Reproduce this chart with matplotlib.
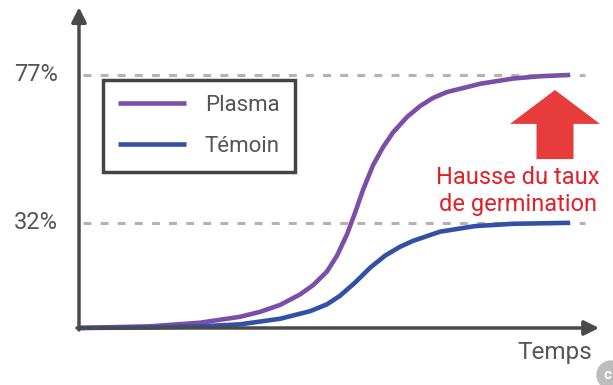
import matplotlib.pyplot as plt
import matplotlib.patches as mpatches

plt.rcParams['font.family'] = ['Roboto', 'DejaVu Sans']

# curves (time in arbitrary units, germination in %)
t_plasma = [0, 14.2, 24.2, 32.2, 36.2, 40.2, 44.2, 46.8, 49.6, 51.6, 53.6, 55.2, 56.8,
            58.8, 60.8, 62.8, 65.6, 68.2, 70.8, 73.6, 77.6, 80.2, 86.8, 92.2, 98.2]
plasma = [0, 0.5, 1.6, 3.4, 4.9, 7.0, 10.2, 13.0, 17.2, 22.0, 28.5, 35.0, 42.0,
          49.5, 55.0, 59.5, 64.2, 67.5, 70.0, 71.8, 73.3, 74.3, 75.9, 76.6, 77.0]

t_temoin = [0, 14.2, 24.2, 32.2, 40.2, 46.2, 49.6, 52.2, 55.2, 58.2, 61.2, 64.2,
            66.8, 72.2, 79.2, 86.8, 98.2]
temoin = [0, 0.16, 0.5, 1.1, 2.8, 5.1, 7.2, 9.8, 13.8, 18.3, 22.0, 24.7,
          26.5, 29.3, 31.0, 31.7, 32.0]

levels = [77, 32]
level_labels = ['77%', '32%']
series_names = ['Plasma', 'Témoin']
colors = ['#7b4fa8', '#3251a6']

fig = plt.figure(figsize=(6.13, 3.85), dpi=100)
ax = fig.add_axes([0, 0, 1, 1])
ax.set_xlim(-15.8, 106.8)
ax.set_ylim(-17.35, 99.8)
ax.axis('off')

# dashed reference levels
for lv, lab in zip(levels, level_labels):
    ax.plot([0.8, 101.2], [lv, lv], color='#b3b3b3', lw=2.2, dashes=(2.6, 3.0), zorder=1)
    ax.text(-4.3, lv, lab, ha='right', va='center', fontsize=17, color='#555555')

# curves
ax.plot(t_plasma, plasma, color=colors[0], lw=3.3, label=series_names[0], zorder=3,
        solid_joinstyle='round', solid_capstyle='butt')
ax.plot(t_temoin, temoin, color=colors[1], lw=3.3, label=series_names[1], zorder=3,
        solid_joinstyle='round', solid_capstyle='butt')

# axes arrows
arrow = dict(arrowstyle='-|>', lw=2.5, color='#4a4a4a', mutation_scale=22, shrinkA=0, shrinkB=0)
ax.annotate('', xy=(0, 97.6), xytext=(0, -0.6), arrowprops=arrow, zorder=4)
ax.annotate('', xy=(104, 0), xytext=(-0.4, 0), arrowprops=arrow, zorder=4)
ax.text(102.6, -7.6, 'Temps', ha='right', va='center', fontsize=17.5, color='#555555')

# legend
leg = ax.legend(loc='upper left', bbox_to_anchor=(0.168, 0.792), borderaxespad=0,
                fontsize=16, handlelength=3.05, handletextpad=0.85, labelspacing=0.87,
                borderpad=0.68, fancybox=False, framealpha=1, labelcolor='#555555')
leg.get_frame().set_edgecolor('#444444')
leg.get_frame().set_linewidth(2.5)

# red arrow and annotation
ax.add_patch(mpatches.FancyArrow(95.2, 51.4, 0, 21.0, width=7.4, head_width=18,
                                 head_length=10.3, length_includes_head=True,
                                 color='#e63c3c', lw=0))
ax.text(87.8, 41.6, 'Hausse du taux\nde germination', ha='center', va='center',
        fontsize=17, color='#e3202a', linespacing=1.2)

# corner badge
ax.add_patch(mpatches.Ellipse((106.4, -14.3), 5.6, 8.5, color='#bdbdbd', clip_on=False))
ax.text(105.6, -14.3, 'c', ha='center', va='center', fontsize=11, color='white',
        fontweight='bold')

fig.savefig('out.png', dpi=100)
